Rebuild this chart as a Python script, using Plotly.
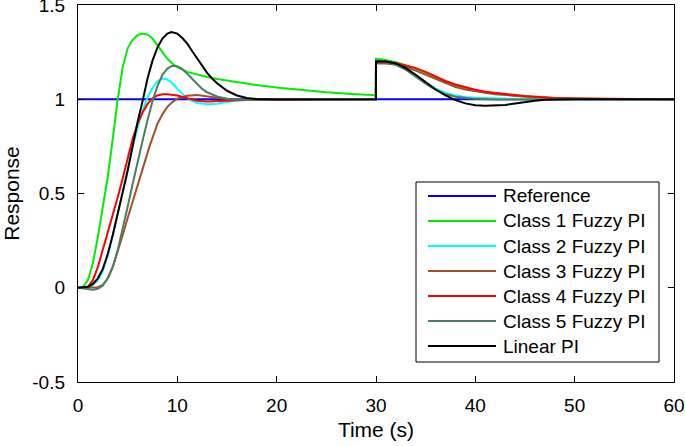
import plotly.graph_objects as go

# ---------------- data ----------------
names = ["Reference", "Class 1 Fuzzy PI", "Class 2 Fuzzy PI", "Class 3 Fuzzy PI",
         "Class 4 Fuzzy PI", "Class 5 Fuzzy PI", "Linear PI"]
colors = ["#0000ff", "#00ee00", "#00ffff", "#a3502a", "#ff0000", "#4c7d60", "#000000"]

ref_t = [0, 60]
ref_y = [1, 1]

c1_t = [0, 0.5, 1, 1.5, 2, 2.5, 3, 3.5, 4, 4.5, 5, 5.5, 6, 6.5, 7, 7.5, 8, 8.5, 9, 9.5, 10, 11, 12, 13, 14, 16,
        18, 20, 22.5, 25, 27.5, 29.99, 30, 30.5, 31, 32, 33, 34, 35, 36, 37, 38, 39, 40, 41, 42, 43, 44, 45,
        46, 48, 50, 55, 60]
c1_y = [0, 0.005, 0.04, 0.13, 0.27, 0.42, 0.59, 0.79, 1.0, 1.17, 1.27, 1.315, 1.34, 1.348, 1.343, 1.322, 1.285,
        1.25, 1.215, 1.19, 1.17, 1.145, 1.13, 1.118, 1.108, 1.09, 1.075, 1.062, 1.048, 1.037, 1.028, 1.021,
        1.215, 1.212, 1.208, 1.197, 1.18, 1.163, 1.14, 1.115, 1.09, 1.072, 1.058, 1.046, 1.037, 1.03, 1.024,
        1.019, 1.015, 1.011, 1.006, 1.003, 1.001, 1.0]

c2_t = [0, 1, 1.5, 2, 2.5, 3, 3.5, 4, 4.5, 5, 5.5, 6, 6.5, 7, 7.5, 8, 8.5, 9, 9.5, 10, 10.5, 11, 11.5, 12, 13,
        14, 15, 16, 18, 20, 25, 29.99, 30, 30.5, 31, 32, 33, 34, 35, 36, 37, 38, 39, 40, 42, 44, 46, 50, 60]
c2_y = [0, 0.003, 0.015, 0.04, 0.09, 0.17, 0.28, 0.39, 0.51, 0.63, 0.75, 0.85, 0.94, 1.01, 1.06, 1.095, 1.11,
        1.105, 1.085, 1.055, 1.028, 1.005, 0.99, 0.98, 0.973, 0.976, 0.985, 0.993, 0.999, 1.0, 1.0, 1.0,
        1.2, 1.2, 1.198, 1.186, 1.16, 1.125, 1.088, 1.056, 1.033, 1.02, 1.012, 1.008, 1.004, 1.002, 1.001,
        1.0, 1.0]

c3_t = [0, 2, 2.5, 3, 3.5, 4, 4.5, 5, 5.75, 6.5, 7.2, 8, 8.5, 9, 9.5, 10, 11, 12, 13, 14, 15, 16, 18, 20, 25,
        29.99, 30, 30.5, 31, 32, 33, 34, 35, 36, 37, 38, 39, 40, 41, 42, 43, 44, 45, 46, 48, 50, 55, 60]
c3_y = [0, 0.003, 0.015, 0.05, 0.11, 0.19, 0.28, 0.37, 0.5, 0.63, 0.75, 0.87, 0.92, 0.96, 0.985, 1.003, 1.019,
        1.022, 1.017, 1.008, 1.001, 0.997, 0.997, 0.999, 1.0, 1.0,
        1.19, 1.19, 1.19, 1.183, 1.17, 1.152, 1.13, 1.105, 1.083, 1.065, 1.052, 1.042, 1.034, 1.027, 1.022,
        1.017, 1.013, 1.01, 1.005, 1.003, 1.0, 1.0]

c4_t = [0, 0.5, 1, 1.5, 2, 2.5, 3, 3.5, 4, 4.5, 5, 5.5, 6, 6.5, 7, 7.5, 8, 8.5, 9, 10, 11, 12, 13, 14, 15, 16,
        18, 20, 25, 29.99, 30, 30.5, 31, 32, 33, 34, 35, 36, 37, 38, 39, 40, 41, 42, 43, 44, 45, 46, 48, 50,
        55, 60]
c4_y = [0, 0, 0.005, 0.04, 0.11, 0.2, 0.29, 0.39, 0.48, 0.58, 0.69, 0.79, 0.87, 0.93, 0.975, 1.005, 1.02, 1.027,
        1.027, 1.02, 1.005, 0.992, 0.988, 0.99, 0.993, 0.997, 0.999, 1.0, 1.0, 1.0,
        1.203, 1.202, 1.2, 1.192, 1.18, 1.165, 1.145, 1.12, 1.097, 1.078, 1.062, 1.05, 1.04, 1.033, 1.027,
        1.022, 1.017, 1.013, 1.007, 1.004, 1.001, 1.0]

c5_t = [0, 1, 1.5, 2, 2.5, 3, 3.5, 4, 4.5, 5, 5.5, 6, 6.5, 7, 7.5, 8, 8.5, 9, 9.5, 10, 10.5, 11, 11.5, 12,
        12.5, 13, 14, 15, 16, 18, 20, 25, 29.99, 30, 30.5, 31, 32, 33, 34, 35, 36, 37, 38, 39, 40, 42, 44, 46,
        50, 60]
c5_y = [0, -0.005, -0.01, -0.005, 0.012, 0.05, 0.11, 0.2, 0.31, 0.43, 0.55, 0.67, 0.78, 0.89, 0.99, 1.07,
        1.13, 1.163, 1.178, 1.175, 1.16, 1.135, 1.108, 1.08, 1.055, 1.037, 1.015, 1.003, 0.997, 0.997, 0.999,
        1.0, 1.0, 1.2, 1.199, 1.197, 1.183, 1.157, 1.12, 1.082, 1.05, 1.027, 1.013, 1.006, 1.002, 0.999, 0.999,
        1.0, 1.0, 1.0]

lin_t = [0, 1, 1.5, 2, 2.5, 3, 3.5, 4, 4.5, 5, 5.5, 6, 6.5, 7, 7.5, 8, 8.5, 9, 9.4, 10, 10.5, 11, 11.5, 12,
         12.5, 13, 13.5, 14, 15, 16, 17, 18, 20, 25, 29.99, 30, 30.5, 31, 32, 33, 34, 35, 36, 37, 38, 39, 40,
         41, 42, 43, 44, 45, 46, 47, 48, 50, 55, 60]
lin_y = [0, 0.005, 0.02, 0.05, 0.1, 0.18, 0.28, 0.39, 0.5, 0.62, 0.75, 0.88, 0.99, 1.11, 1.205, 1.275, 1.322,
         1.348, 1.357, 1.348, 1.325, 1.295, 1.255, 1.215, 1.175, 1.14, 1.11, 1.085, 1.045, 1.02, 1.007, 1.001,
         0.999, 1.0, 1.0,
         1.2, 1.2, 1.2, 1.19, 1.165, 1.13, 1.09, 1.052, 1.02, 0.995, 0.978, 0.968, 0.965, 0.966, 0.97, 0.977,
         0.985, 0.992, 0.997, 0.999, 1.0, 1.0, 1.0]

x_ticks = [0, 10, 20, 30, 40, 50, 60]
y_ticks = [-0.5, 0, 0.5, 1, 1.5]
y_ticklabels = ["-0.5", "0", "0.5", "1", "1.5"]

series = [(ref_t, ref_y), (c1_t, c1_y), (c2_t, c2_y), (c3_t, c3_y),
          (c4_t, c4_y), (c5_t, c5_y), (lin_t, lin_y)]

# ---------------- layout constants (pixels) ----------------
W, H = 685, 446
ML, MR, MT, MB = 78, 11, 5, 64
PW, PH = W - ML - MR, H - MT - MB


def px_x(p):
    return (p - ML) / PW


def px_y(p):
    return (H - MB - p) / PH


FONT = "Liberation Sans, Arial, Helvetica, sans-serif"
fig = go.Figure()
for (t, y), name, col in zip(series, names, colors):
    fig.add_trace(go.Scatter(x=t, y=y, mode="lines", name=name, showlegend=False,
                             line=dict(color=col, width=2, shape="linear")))

axis_common = dict(showline=True, linecolor="black", linewidth=1.3, mirror="ticks",
                   ticks="inside", ticklen=6, tickwidth=1.3, tickcolor="black",
                   showgrid=False, zeroline=False, automargin=False,
                   ticklabeloverflow="allow",
                   tickfont=dict(size=19, color="black"))

fig.update_xaxes(range=[0, 60], tickvals=x_ticks, ticklabelstandoff=6,
                 title=dict(text="Time (s)", font=dict(size=21, color="black"), standoff=7),
                 **axis_common)
fig.update_yaxes(range=[-0.5, 1.5], tickvals=y_ticks, ticktext=y_ticklabels, ticklabelstandoff=8,
                 title=dict(text="Response", font=dict(size=21, color="black"), standoff=6),
                 **axis_common)

# ---------------- legend box (drawn like the reference) ----------------
LEG_L, LEG_R, LEG_T, LEG_B = 416, 659, 182, 362
ROW0, ROW_STEP = 196, 25
LINE_X0, LINE_X1, TEXT_X = 428, 496, 501

shapes = [dict(type="rect", xref="paper", yref="paper",
               x0=px_x(LEG_L), x1=px_x(LEG_R), y0=px_y(LEG_B), y1=px_y(LEG_T),
               line=dict(color="black", width=1), fillcolor="white", layer="above")]
annotations = []
for i, (name, col) in enumerate(zip(names, colors)):
    yy = px_y(ROW0 + ROW_STEP * i)
    shapes.append(dict(type="line", xref="paper", yref="paper",
                       x0=px_x(LINE_X0), x1=px_x(LINE_X1), y0=yy, y1=yy,
                       line=dict(color=col, width=2), layer="above"))
    annotations.append(dict(text=name, xref="paper", yref="paper", x=px_x(TEXT_X), y=yy,
                            xanchor="left", yanchor="middle", showarrow=False,
                            font=dict(size=19, color="black", family=FONT)))

fig.update_layout(
    width=W, height=H,
    margin=dict(l=ML, r=MR, t=MT, b=MB),
    paper_bgcolor="white", plot_bgcolor="white",
    font=dict(family=FONT, color="black"),
    showlegend=False,
    shapes=shapes, annotations=annotations,
)

fig.write_html("out.html", config={"displayModeBar": False},
               post_script="document.body.style.margin='0';document.body.style.overflow='hidden';")
